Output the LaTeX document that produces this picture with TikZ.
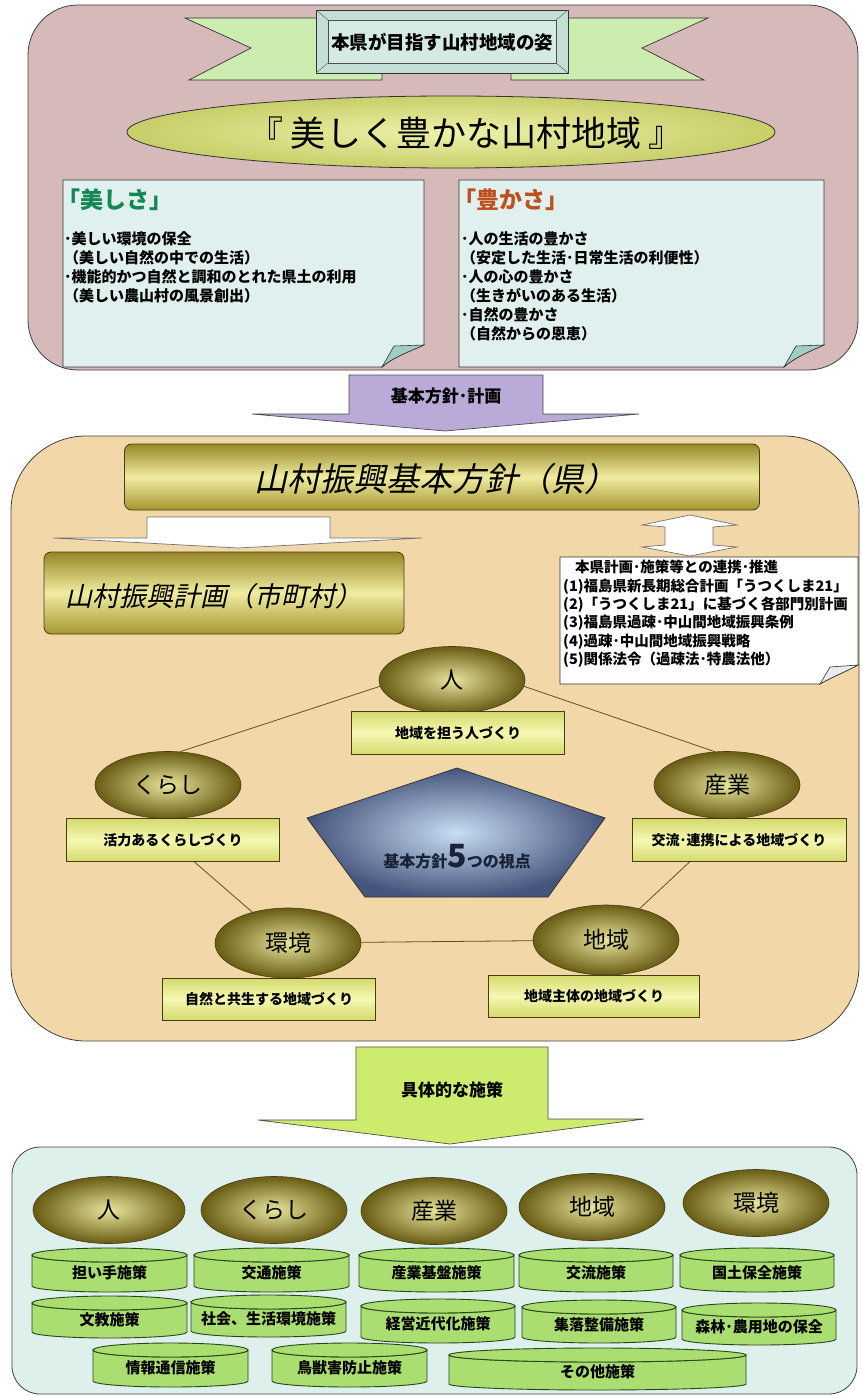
\documentclass[tikz,border=0pt]{standalone}
\usepackage{fontspec}
\setmainfont{Noto Sans CJK JP}
\newfontfamily\jpsl[FakeSlant=0.22]{Noto Sans CJK JP}
\usetikzlibrary{calc,shapes.geometric}
\definecolor{pinkbg}{RGB}{214,186,186}
\definecolor{ribbongreen}{RGB}{205,236,175}
\definecolor{bannerframe}{RGB}{195,222,212}
\definecolor{bannerin}{RGB}{214,234,228}
\definecolor{visin}{RGB}{238,242,170}
\definecolor{visout}{RGB}{200,206,105}
\definecolor{notefill}{RGB}{223,240,238}
\definecolor{foldfill}{RGB}{160,206,196}
\definecolor{titlegreen}{RGB}{20,135,85}
\definecolor{titlebrown}{RGB}{190,80,30}
\definecolor{purplearrow}{RGB}{185,170,215}
\definecolor{tanbg}{RGB}{242,216,168}
\definecolor{gbtop}{RGB}{150,135,40}
\definecolor{gbmid}{RGB}{240,236,160}
\definecolor{gbbot}{RGB}{165,150,50}
\definecolor{goldin}{RGB}{232,228,155}
\definecolor{goldout}{RGB}{105,92,20}
\definecolor{olivedark}{RGB}{70,62,15}
\definecolor{ybedge}{RGB}{212,218,108}
\definecolor{ybmid}{RGB}{246,247,178}
\definecolor{pentin}{RGB}{200,220,242}
\definecolor{pentout}{RGB}{70,85,125}
\definecolor{greenarrow}{RGB}{205,236,110}
\definecolor{bottombg}{RGB}{222,240,236}
\definecolor{cylfill}{RGB}{170,222,112}
\definecolor{cyldraw}{RGB}{40,70,25}
\definecolor{linkc}{RGB}{95,80,40}
\definecolor{navytext}{RGB}{25,35,55}
\pgfdeclarelayer{panels}
\pgfdeclarelayer{links}
\pgfsetlayers{panels,links,main}
\tikzset{
  panelbox/.style={draw=black!75, line width=0.8pt},
  ribbon/.style={draw=black!80, fill=ribbongreen, line width=0.7pt},
  notebox/.style={draw=black!80, fill=notefill, line width=0.7pt},
  foldst/.style={draw=black!80, fill=foldfill, line width=0.6pt},
  bignote/.style={anchor=north west, inner sep=0pt, align=left, font=\bfseries\fontsize{15}{19}\selectfont},
  goldell/.style={ellipse, draw=olivedark, line width=0.6pt, inner color=goldin, outer color=goldout, minimum width=146pt, minimum height=67pt, inner sep=0pt, font=\fontsize{23}{23}\selectfont},
  ybox/.style={rectangle, draw=olivedark, line width=0.9pt, top color=ybedge, bottom color=ybedge, middle color=ybmid, minimum width=213pt, minimum height=43pt, inner sep=0pt, font=\bfseries\fontsize{14}{14}\selectfont},
  goldbar/.style={rectangle, rounded corners=7pt, draw=olivedark, line width=0.8pt, top color=gbtop, bottom color=gbbot, middle color=gbmid, inner sep=0pt},
  link/.style={draw=linkc, line width=0.8pt},
  bigarrow/.style={draw=black!70, line width=0.7pt},
  arrowlabel/.style={inner sep=0pt, font=\bfseries\fontsize{17}{17}\selectfont},
  cylst/.style={draw=cyldraw, fill=cylfill, line width=0.9pt},
  cyltext/.style={inner sep=0pt, font=\bfseries\fontsize{15}{15}\selectfont},
}
\newcommand\cylnode[6]{%
  \pgfmathsetmacro\cwh{#4/2}\pgfmathsetmacro\chh{#5/2}%
  \draw[cylst] (#2-\cwh,#3-\chh+7) -- (#2-\cwh,#3+\chh-6) arc[start angle=180,end angle=0,x radius=\cwh,y radius=6] -- (#2+\cwh,#3-\chh+7) arc[start angle=0,end angle=180,x radius=\cwh,y radius=7] -- cycle;
  \draw[cylst] (#2,#3-\chh+7) ellipse[x radius=\cwh,y radius=7];
  \node[cyltext] (#1) at (#2,#3+3) {#6};
}
\begin{document}
\begin{tikzpicture}[x=1pt,y=-1pt]
\useasboundingbox (0,0) rectangle (862,1396);
\begin{pgfonlayer}{panels}
\fill[white] (0,0) rectangle (862,1396);
\draw[panelbox, fill=pinkbg, rounded corners=50pt] (28,5) rectangle (858,370);
\draw[panelbox, fill=tanbg, rounded corners=75pt] (11,436) rectangle (859,1041);
\draw[panelbox, fill=bottombg, rounded corners=28pt] (12,1147) rectangle (857,1394);
\end{pgfonlayer}

% ---- ribbon banner ----
\draw[ribbon] (185,18) -- (382,18) -- (382,80) -- (189,80) -- (251,48) -- cycle;
\draw[ribbon] (708,18) -- (511,18) -- (511,80) -- (704,80) -- (642,48) -- cycle;
\node[draw=black!80, line width=0.8pt, fill=bannerframe, minimum width=252pt, minimum height=63pt, inner sep=0pt] (bannerbox) at (442,41.5) {};
\draw[black!70, line width=0.6pt, fill=bannerin] (328,20) rectangle (556,63);
\draw[black!60, line width=0.5pt] (316,10) -- (328,20) (568,10) -- (556,20) (316,73) -- (328,63) (568,73) -- (556,63);
\node[inner sep=0pt, font=\bfseries\fontsize{18.5}{18.5}\selectfont] (bannertext) at (442,42) {本県が目指す山村地域の姿};

% ---- vision ellipse ----
\node[ellipse, draw=black!80, line width=0.8pt, inner color=visin, outer color=visout, minimum width=648pt, minimum height=72pt, inner sep=0pt] (vision) at (451,132) {};
\node[inner sep=0pt, font=\fontsize{35}{35}\selectfont] (visiontext) at (466,133) {『 美しく豊かな山村地域 』};

% ---- two notes ----
\draw[notebox] (63,180) -- (424,180) -- (424,345) .. controls (408,352) and (392,358) .. (382,367) -- (63,367) -- cycle;
\draw[foldst] (382,367) -- (394,346) -- (424,345) .. controls (408,352) and (392,358) .. (382,367) -- cycle;
\draw[notebox] (459,180) -- (824,180) -- (824,345) .. controls (808,352) and (794,358) .. (784,367) -- (459,367) -- cycle;
\draw[foldst] (784,367) -- (796,346) -- (824,345) .. controls (808,352) and (794,358) .. (784,367) -- cycle;
\node[anchor=west, inner sep=0pt, text=titlegreen, font=\bfseries\fontsize{23}{23}\selectfont] (tbeauty) at (57,200) {「美しさ」};
\node[anchor=west, inner sep=0pt, text=titlebrown, font=\bfseries\fontsize{23}{23}\selectfont] (trich) at (453,200) {「豊かさ」};
\node[bignote] (nbeauty) at (64,231) {･美しい環境の保全\\（美しい自然の中での生活）\\･機能的かつ自然と調和のとれた県土の利用\\（美しい農山村の風景創出）};
\node[bignote] (nrich) at (461,231) {･人の生活の豊かさ\\（安定した生活･日常生活の利便性）\\･人の心の豊かさ\\（生きがいのある生活）\\･自然の豊かさ\\（自然からの恩恵）};

% ---- purple arrow ----
\draw[bigarrow, fill=purplearrow] (349,375) -- (543,375) -- (543,414) -- (639,414) -- (445,431) -- (252,414) -- (349,414) -- cycle;
\node[arrowlabel] (lplan) at (446,396) {基本方針･計画};

% ---- middle panel ----
\node[goldbar, minimum width=635pt, minimum height=66pt] (kenbar) at (442,477) {};
\node[inner sep=0pt, font=\jpsl\fontsize{33}{33}\selectfont] (kentext) at (436,479) {山村振興基本方針（県）};
\draw[draw=black!55, line width=0.7pt, fill=white] (147,517) -- (330,517) -- (330,538) -- (422,538) -- (238,548) -- (53,538) -- (147,538) -- cycle;
\node[goldbar, minimum width=360pt, minimum height=82pt] (citybar) at (224,593) {};
\node[inner sep=0pt, font=\jpsl\fontsize{27}{27}\selectfont] (citytext) at (214,596) {山村振興計画（市町村）};
\draw[draw=black!55, line width=0.7pt, fill=white] (665,527) -- (642,525) -- (690,515) -- (737,525) -- (713,527) -- (713,545) -- (737,547) -- (690,556) -- (642,547) -- (665,545) -- cycle;
\draw[draw=black!80, line width=0.7pt, fill=white] (560,557) -- (858,557) -- (858,665) .. controls (845,672) and (830,678) .. (820,684) -- (560,684) -- cycle;
\draw[draw=black!80, line width=0.6pt, fill=black!8] (820,684) -- (830,667) -- (858,665) .. controls (845,672) and (830,678) .. (820,684) -- cycle;
\node[anchor=north west, inner sep=0pt, align=left, font=\bfseries\fontsize{14.5}{18.4}\selectfont] (related) at (563,560) {\hspace{12pt}本県計画･施策等との連携･推進\\(1)福島県新長期総合計画「うつくしま21」\\(2)「うつくしま21」に基づく各部門別計画\\(3)福島県過疎･中山間地域振興条例\\(4)過疎･中山間地域振興戦略\\(5)関係法令（過疎法･特農法他）};

% pentagon
\path[draw=black!80, line width=0.8pt, inner color=pentin, outer color=pentout] (457,768) -- (605,818) -- (548,897) -- (365,897) -- (307,818) -- cycle;
\node[inner sep=0pt, text=navytext, font=\bfseries\fontsize{16}{16}\selectfont] (penta) at (457,857) {基本方針{\fontsize{32}{32}\selectfont 5}つの視点};

% five viewpoints
\node[goldell] (p1) at (452,680) {人};
\node[ybox] (b1) at (458,733) {地域を担う人づくり};
\node[goldell] (p2) at (168,785) {くらし};
\node[ybox] (b2) at (173,840) {活力あるくらしづくり};
\node[goldell] (p3) at (727,785) {産業};
\node[ybox, minimum width=214pt] (b3) at (739,840) {交流･連携による地域づくり};
\node[goldell, minimum height=70pt] (p5) at (288,943) {環境};
\node[ybox, minimum height=42pt] (b5) at (269,999) {自然と共生する地域づくり};
\node[goldell, minimum height=70pt] (p4) at (606,940) {地域};
\node[ybox, minimum height=42pt, minimum width=211pt] (b4) at (594,996) {地域主体の地域づくり};
\begin{pgfonlayer}{links}
\draw[link] (p1.185) -- (p2.70);
\draw[link] (p1.355) -- (p3.110);
\draw[link] ($(b2.south west)!0.6!(b2.south east)$) -- (p5);
\draw[link] ($(b3.south west)!0.27!(b3.south east)$) -- (p4);
\draw[link] (p5) -- (p4);
\end{pgfonlayer}

% ---- green arrow ----
\draw[bigarrow, fill=greenarrow] (356,1047) -- (548,1047) -- (548,1119) -- (644,1119) -- (450,1144) -- (258,1120) -- (356,1120) -- cycle;
\node[arrowlabel] (lmeasure) at (452,1090) {具体的な施策};

% ---- bottom panel ----
\node[goldell, minimum width=152pt] (q1) at (109,1210) {人};
\node[goldell] (q2) at (274,1210) {くらし};
\node[goldell] (q3) at (434,1211) {産業};
\node[goldell] (q4) at (592,1207) {地域};
\node[goldell] (q5) at (756,1203) {環境};

\cylnode{c11}{109.5}{1270}{155}{44}{担い手施策}
\cylnode{c12}{271.5}{1270}{155}{44}{交通施策}
\cylnode{c13}{436.5}{1270}{155}{44}{産業基盤施策}
\cylnode{c14}{596}{1270}{154}{44}{交流施策}
\cylnode{c15}{757}{1270}{154}{44}{国土保全施策}
\cylnode{c21}{109.5}{1317}{155}{42}{文教施策}
\cylnode{c22}{268.5}{1316}{155}{42}{社会、生活環境施策}
\cylnode{c23}{438}{1321}{154}{44}{経営近代化施策}
\cylnode{c24}{599}{1321.5}{154}{43}{集落整備施策}
\cylnode{c25}{759}{1324}{154}{42}{森林･農用地の保全}
\cylnode{c31}{170.5}{1365}{155}{44}{情報通信施策}
\cylnode{c32}{349.5}{1365}{155}{44}{鳥獣害防止施策}
\cylnode{c33}{597.5}{1369}{297}{42}{その他施策}
\end{tikzpicture}
\end{document}
